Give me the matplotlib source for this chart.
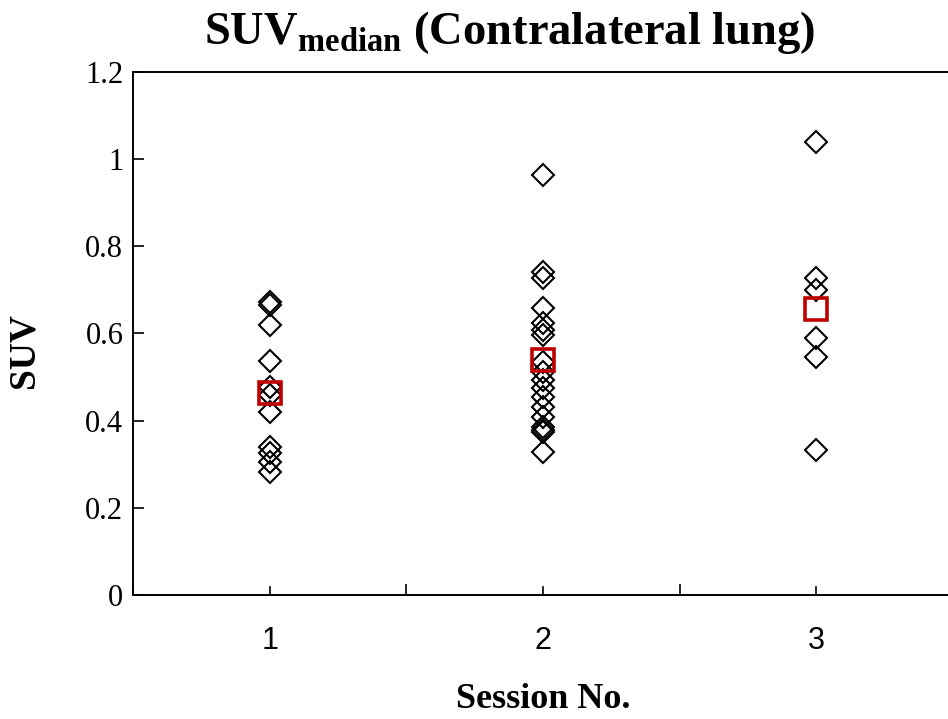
import numpy as np
import matplotlib
matplotlib.use("Agg")
import matplotlib.pyplot as plt

plt.rcParams["mathtext.fontset"] = "custom"
plt.rcParams["mathtext.bf"] = "Liberation Serif:bold"
plt.rcParams["mathtext.rm"] = "Liberation Serif"

sessions = [1, 2, 3]
session1 = [0.673, 0.665, 0.62, 0.537, 0.478, 0.459, 0.42, 0.34, 0.326, 0.306, 0.283]
session2 = [0.964, 0.742, 0.727, 0.658, 0.623, 0.608, 0.597, 0.535, 0.512, 0.493,
            0.474, 0.455, 0.432, 0.409, 0.386, 0.379, 0.375, 0.329]
session3 = [1.04, 0.727, 0.70, 0.589, 0.547, 0.333]
groups = [session1, session2, session3]
means = [np.mean(g) for g in groups]

yticks = [0, 0.2, 0.4, 0.6, 0.8, 1, 1.2]
ylabels = ["0", "0.2", "0.4", "0.6", "0.8", "1", "1.2"]

fig = plt.figure(figsize=(9.48, 7.19), dpi=100)
ax = fig.add_axes([0.1403, 0.1725, 0.865, 0.7274])

for s, g in zip(sessions, groups):
    ax.plot([s] * len(g), g, linestyle="none", marker="D", ms=11.5,
            mfc="none", mec="black", mew=1.5, zorder=2)
ax.plot(sessions, means, linestyle="none", marker="s", ms=16,
        mfc="none", mec="#C00000", mew=2.6, zorder=3)

ax.set_xlim(0.5, 3.5)
ax.set_ylim(0, 1.2)
ax.set_xticks(sessions)
ax.set_xticks([0.5, 1.5, 2.5, 3.5], minor=True)
ax.set_xticklabels([str(s) for s in sessions], fontfamily="Liberation Sans", fontsize=22)
ax.set_yticks(yticks)
ax.set_yticklabels(ylabels, fontfamily="Liberation Serif", fontsize=22)

ax.tick_params(axis="x", which="major", direction="in", length=0, pad=22)
ax.tick_params(axis="x", which="minor", direction="in", length=8, width=1.2)
ax.tick_params(axis="y", direction="in", length=8, width=1.2, pad=7)
# major x ticks drawn as inward marks too
for s in sessions:
    ax.axvline(s, ymin=0, ymax=8 / 523, color="black", lw=1.2, clip_on=False)

for side in ["left", "bottom", "top"]:
    ax.spines[side].set_linewidth(1.4)
ax.spines["right"].set_visible(False)

ax.set_xlabel("Session No.", fontfamily="Liberation Serif", fontweight="bold",
              fontsize=26)
ax.xaxis.set_label_coords(0.5, -0.168)
ax.set_ylabel("SUV", fontfamily="Liberation Serif", fontweight="bold",
              fontsize=27)
ax.yaxis.set_label_coords(-0.111, 0.468)
fig.text(0.538, 0.955, r"SUV$_{\mathbf{median}}$ (Contralateral lung)",
         ha="center", va="center", fontfamily="Liberation Serif",
         fontweight="bold", fontsize=33.5)

fig.savefig("out.png", dpi=100)
